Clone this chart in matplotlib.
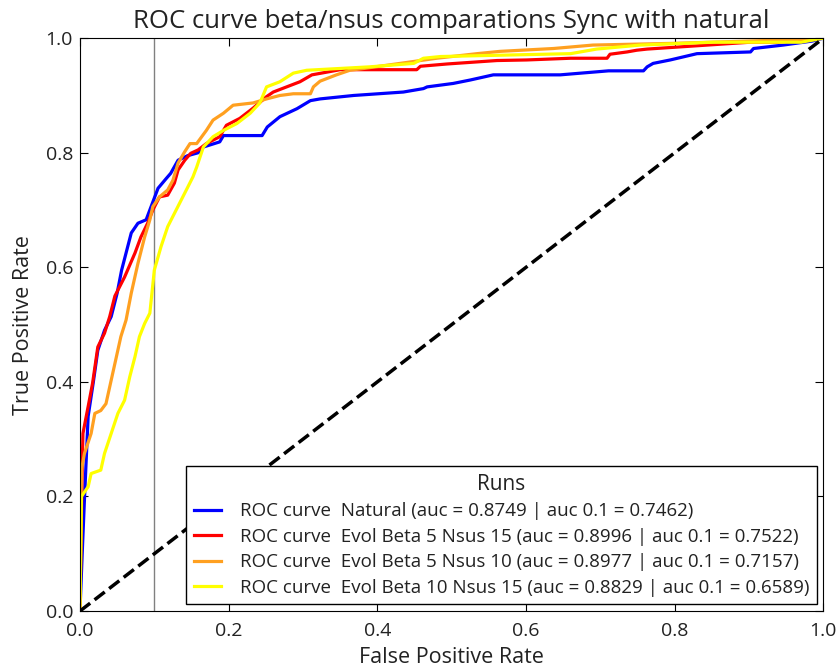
import numpy as np
import matplotlib.pyplot as plt

plt.rcParams['font.family'] = ['Open Sans', 'DejaVu Sans']
plt.rcParams['text.color'] = '#222222'
plt.rcParams['axes.labelcolor'] = '#222222'
plt.rcParams['xtick.labelcolor'] = '#222222'
plt.rcParams['ytick.labelcolor'] = '#222222'

# ROC points (fpr, tpr)
natural_fpr = [0.0, 0.003, 0.006, 0.011, 0.018, 0.024, 0.033, 0.042, 0.05, 0.056, 0.063, 0.069, 0.078,
               0.089, 0.098, 0.105, 0.116, 0.122, 0.132, 0.145, 0.159, 0.166, 0.188, 0.193, 0.245,
               0.252, 0.269, 0.292, 0.31, 0.323, 0.368, 0.435, 0.462, 0.467, 0.502, 0.525, 0.556,
               0.646, 0.711, 0.758, 0.763, 0.771, 0.794, 0.83, 0.902, 0.906, 0.946, 0.985, 1.0]
natural_tpr = [0.0, 0.1, 0.194, 0.34, 0.4, 0.455, 0.49, 0.514, 0.555, 0.595, 0.63, 0.66, 0.677,
               0.683, 0.714, 0.738, 0.755, 0.764, 0.787, 0.795, 0.80, 0.81, 0.819, 0.83, 0.83,
               0.845, 0.863, 0.877, 0.891, 0.894, 0.90, 0.906, 0.912, 0.915, 0.921, 0.927, 0.936,
               0.936, 0.943, 0.943, 0.95, 0.956, 0.962, 0.973, 0.976, 0.982, 0.988, 0.995, 1.0]

b5n15_fpr = [0.0, 0.003, 0.004, 0.011, 0.017, 0.024, 0.033, 0.04, 0.047, 0.06, 0.074, 0.082,
             0.091, 0.098, 0.107, 0.118, 0.127, 0.132, 0.141, 0.149, 0.159, 0.17, 0.188, 0.197,
             0.215, 0.233, 0.251, 0.26, 0.278, 0.296, 0.312, 0.35, 0.453, 0.458, 0.494, 0.561,
             0.601, 0.66, 0.709, 0.713, 0.736, 0.749, 0.763, 0.902, 0.937, 1.0]
b5n15_tpr = [0.0, 0.252, 0.31, 0.357, 0.398, 0.461, 0.485, 0.514, 0.55, 0.583, 0.625, 0.653,
             0.677, 0.70, 0.723, 0.726, 0.747, 0.77, 0.787, 0.799, 0.805, 0.816, 0.828, 0.848,
             0.86, 0.878, 0.898, 0.906, 0.915, 0.924, 0.936, 0.945, 0.945, 0.951, 0.955, 0.961,
             0.962, 0.965, 0.965, 0.972, 0.976, 0.979, 0.981, 0.993, 0.993, 1.0]

b5n10_fpr = [0.0, 0.002, 0.006, 0.015, 0.02, 0.028, 0.035, 0.042, 0.048, 0.055, 0.062, 0.069,
             0.078, 0.087, 0.094, 0.098, 0.107, 0.118, 0.125, 0.132, 0.141, 0.148, 0.157, 0.17,
             0.179, 0.193, 0.206, 0.233, 0.251, 0.269, 0.287, 0.31, 0.314, 0.323, 0.345, 0.363,
             0.381, 0.48, 0.534, 0.565, 0.637, 0.69, 0.798, 0.95, 1.0]
b5n10_tpr = [0.0, 0.246, 0.275, 0.31, 0.345, 0.35, 0.362, 0.403, 0.438, 0.479, 0.508, 0.555,
             0.607, 0.653, 0.683, 0.706, 0.723, 0.735, 0.752, 0.782, 0.802, 0.816, 0.816, 0.839,
             0.857, 0.869, 0.883, 0.887, 0.894, 0.90, 0.903, 0.903, 0.915, 0.925, 0.936, 0.944,
             0.947, 0.965, 0.973, 0.977, 0.982, 0.988, 0.991, 0.997, 1.0]

b10n15_fpr = [0.0, 0.002, 0.011, 0.015, 0.028, 0.033, 0.042, 0.051, 0.06, 0.067, 0.074, 0.08,
              0.087, 0.094, 0.1, 0.109, 0.118, 0.127, 0.136, 0.145, 0.152, 0.157, 0.166, 0.179,
              0.193, 0.211, 0.229, 0.242, 0.251, 0.269, 0.287, 0.305, 0.39, 0.449, 0.462, 0.485,
              0.66, 0.695, 0.754, 0.852, 0.97, 1.0]
b10n15_tpr = [0.0, 0.2, 0.217, 0.24, 0.246, 0.275, 0.31, 0.345, 0.368, 0.409, 0.444, 0.479,
              0.502, 0.52, 0.595, 0.636, 0.671, 0.694, 0.717, 0.74, 0.758, 0.775, 0.81, 0.828,
              0.839, 0.851, 0.869, 0.887, 0.915, 0.924, 0.939, 0.944, 0.95, 0.956, 0.965, 0.968,
              0.973, 0.981, 0.988, 0.993, 0.993, 1.0]

labels = ['ROC curve  Natural (auc = 0.8749 | auc 0.1 = 0.7462)',
          'ROC curve  Evol Beta 5 Nsus 15 (auc = 0.8996 | auc 0.1 = 0.7522)',
          'ROC curve  Evol Beta 5 Nsus 10 (auc = 0.8977 | auc 0.1 = 0.7157)',
          'ROC curve  Evol Beta 10 Nsus 15 (auc = 0.8829 | auc 0.1 = 0.6589)']
colors = ['blue', 'red', '#ffa020', 'yellow']

curves = [(natural_fpr, natural_tpr), (b5n15_fpr, b5n15_tpr),
          (b5n10_fpr, b5n10_tpr), (b10n15_fpr, b10n15_tpr)]

fig = plt.figure(figsize=(8.4, 6.7), dpi=100)
ax = fig.add_axes([0.0952, 0.088, 0.885, 0.855])

ax.axvline(0.1, color='gray', lw=1)
for (fpr, tpr), c, lab in zip(curves, colors, labels):
    ax.plot(fpr, tpr, color=c, lw=2.3, label=lab)
ax.plot([0, 1], [0, 1], 'k--', lw=2.5)

ax.set_xlim(0.0, 1.0)
ax.set_ylim(0.0, 1.0)
ax.set_xticks(np.arange(0, 1.01, 0.2))
ax.set_yticks(np.arange(0, 1.01, 0.2))
ax.tick_params(direction='in', top=True, right=True, labelsize=14, length=6)
ax.tick_params(axis='x', pad=8)
ax.tick_params(axis='y', pad=5)
ax.set_xlabel('False Positive Rate', fontsize=15.5, labelpad=5)
ax.set_ylabel('True Positive Rate', fontsize=15.5, labelpad=8)
ax.set_title('ROC curve beta/nsus comparations Sync with natural', fontsize=18.5, pad=7)

leg = ax.legend(loc='lower right', title='Runs', fontsize=13.5, title_fontsize=15,
                fancybox=False, edgecolor='black', framealpha=1, handlelength=1.45,
                handletextpad=1.0, labelspacing=0.4, borderaxespad=0.35, borderpad=0.4)
leg.get_frame().set_linewidth(1)

fig.savefig('out.png', dpi=100)
